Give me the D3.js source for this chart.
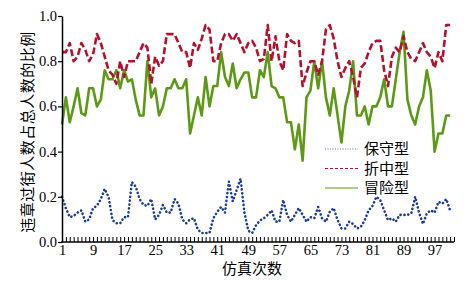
<!DOCTYPE html>
<html>
<head>
<meta charset="utf-8">
<script src="https://cdn.jsdelivr.net/npm/d3@7/dist/d3.min.js"></script>
<style>
    body { margin: 0; background: #fff; }
    svg { display: block; }
</style>
</head>
<body>
<div id="chart"></div>
<script>
// 仿真次数 1..101
var conservative = [
    0.20, 0.15, 0.11, 0.115, 0.13, 0.14, 0.09, 0.10, 0.15, 0.16,
    0.19, 0.235, 0.20, 0.097, 0.083, 0.083, 0.11, 0.11, 0.265, 0.245,
    0.19, 0.164, 0.16, 0.19, 0.10, 0.12, 0.164, 0.13, 0.13, 0.19,
    0.17, 0.10, 0.083, 0.10, 0.105, 0.055, 0.04, 0.04, 0.04, 0.105,
    0.134, 0.155, 0.13, 0.267, 0.18, 0.23, 0.28, 0.13, 0.05, 0.04,
    0.075, 0.095, 0.105, 0.12, 0.14, 0.09, 0.09, 0.186, 0.12, 0.09,
    0.12, 0.15, 0.12, 0.09, 0.11, 0.105, 0.155, 0.105, 0.09, 0.134,
    0.15, 0.097, 0.06, 0.06, 0.09, 0.08, 0.06, 0.067, 0.097, 0.14,
    0.16, 0.20, 0.186, 0.14, 0.097, 0.105, 0.09, 0.12, 0.12, 0.12,
    0.127, 0.20, 0.13, 0.08, 0.127, 0.14, 0.13, 0.178, 0.17, 0.19,
    0.14
];
var moderate = [
    0.84, 0.84, 0.88, 0.80, 0.82, 0.88, 0.85, 0.80, 0.83, 0.92,
    0.88, 0.82, 0.76, 0.74, 0.70, 0.80, 0.73, 0.80, 0.80, 0.80,
    0.84, 0.88, 0.86, 0.70, 0.82, 0.78, 0.80, 0.92, 0.92, 0.92,
    0.88, 0.84, 0.84, 0.77, 0.88, 0.85, 0.90, 0.96, 0.94, 0.80,
    0.80, 0.88, 0.92, 0.92, 0.89, 0.92, 0.88, 0.84, 0.88, 0.89,
    0.86, 0.80, 0.81, 0.96, 0.80, 0.91, 0.80, 0.76, 0.92, 0.89,
    0.88, 0.89, 0.69, 0.75, 0.80, 0.80, 0.74, 0.80, 0.94, 0.96,
    0.90, 0.80, 0.73, 0.77, 0.80, 0.73, 0.64, 0.77, 0.79, 0.84,
    0.88, 0.89, 0.89, 0.76, 0.69, 0.82, 0.86, 0.84, 0.91, 0.84,
    0.81, 0.80, 0.84, 0.88, 0.84, 0.82, 0.77, 0.84, 0.80, 0.96,
    0.96
];
var risky = [
    0.52, 0.64, 0.53, 0.60, 0.68, 0.57, 0.56, 0.68, 0.68, 0.60,
    0.63, 0.76, 0.72, 0.72, 0.76, 0.68, 0.76, 0.71, 0.72, 0.63,
    0.56, 0.56, 0.80, 0.64, 0.68, 0.56, 0.60, 0.68, 0.68, 0.72,
    0.68, 0.68, 0.72, 0.48, 0.56, 0.64, 0.56, 0.73, 0.60, 0.69,
    0.69, 0.84, 0.73, 0.69, 0.79, 0.68, 0.72, 0.75, 0.75, 0.64,
    0.64, 0.76, 0.73, 0.84, 0.69, 0.68, 0.64, 0.64, 0.53, 0.53,
    0.41, 0.52, 0.36, 0.64, 0.67, 0.80, 0.68, 0.80, 0.64, 0.56,
    0.68, 0.56, 0.44, 0.60, 0.67, 0.80, 0.56, 0.56, 0.60, 0.52,
    0.60, 0.60, 0.64, 0.72, 0.60, 0.60, 0.72, 0.84, 0.93, 0.63,
    0.56, 0.52, 0.60, 0.64, 0.76, 0.67, 0.40, 0.48, 0.48, 0.56,
    0.56
];
var seriesNames = ["保守型", "折中型", "冒险型"];
var xTickLabels = [1, 9, 17, 25, 33, 41, 49, 57, 65, 73, 81, 89, 97];
var yTickLabels = [0, 0.2, 0.4, 0.6, 0.8, 1.0];

var w = 476,
    h = 282,
    plotLeft = 62,
    plotRight = 454,
    plotTop = 16,
    plotBottom = 242,
    numFont = "'Liberation Serif', 'Noto Sans CJK SC', serif",
    cjkFont = "'Noto Sans CJK SC', sans-serif";

var svg = d3.select("#chart")
    .append("svg")
    .attr("width", w)
    .attr("height", h);

var x = d3.scaleLinear().domain([1, 102]).range([plotLeft, plotRight]);
var y = d3.scaleLinear().domain([0, 1]).range([plotBottom, plotTop]);

var styles = [
    { color: "#1b3a9e", dash: "0.1,3.8", cap: "round", width: 2.6, legendColor: "#6a6ad8", legendDash: "1,1.5" },
    { color: "#b3122e", dash: "7,3", cap: "butt", width: 2.6, legendColor: "#b3122e", legendDash: "3,2" },
    { color: "#5c9a16", dash: null, cap: "butt", width: 2.6, legendColor: "#5c9a16", legendDash: null }
];
var allSeries = [conservative, moderate, risky];

var line = d3.line()
    .x(function (d, i) { return x(i + 1); })
    .y(function (d) { return y(d); });

// green first, then red, then the blue dots on top
[2, 1, 0].forEach(function (k) {
    svg.append("path")
        .datum(allSeries[k])
        .attr("fill", "none")
        .attr("stroke", styles[k].color)
        .attr("stroke-width", styles[k].width)
        .attr("stroke-linecap", styles[k].cap)
        .attr("stroke-linejoin", "round")
        .attr("stroke-dasharray", styles[k].dash)
        .attr("d", line);
});

// x axis: a tick at every run, labels every 8
var xAxis = d3.axisBottom(x)
    .tickValues(d3.range(1, 103))
    .tickSizeInner(-5)
    .tickSizeOuter(0)
    .tickFormat(function (d) { return xTickLabels.indexOf(d) >= 0 ? d : ""; });

var gx = svg.append("g")
    .attr("transform", "translate(0," + plotBottom + ")")
    .call(xAxis);
gx.select(".domain").attr("stroke", "#000").attr("stroke-width", 1.5)
    .attr("d", "M" + (plotLeft - 0.75) + ",0H" + plotRight);
gx.selectAll(".tick line").attr("stroke", "#000").attr("stroke-width", 1);
gx.selectAll(".tick text")
    .attr("y", 2.5)
    .attr("font-family", numFont)
    .attr("font-size", 14.5)
    .attr("fill", "#000");

// y axis: line and short outward ticks, labels as separate texts
var yAxis = d3.axisLeft(y)
    .tickValues(yTickLabels)
    .tickSizeInner(4)
    .tickSizeOuter(0)
    .tickFormat("");

var gy = svg.append("g")
    .attr("transform", "translate(" + plotLeft + ",0)")
    .call(yAxis);
gy.select(".domain").attr("stroke", "#000").attr("stroke-width", 1.5);
gy.selectAll(".tick line").attr("stroke", "#000").attr("stroke-width", 1.2);

svg.selectAll("text.ylabel")
    .data(yTickLabels)
    .enter()
    .append("text")
    .attr("class", "ylabel")
    .text(function (d) { return d3.format(".1f")(d); })
    .attr("x", plotLeft - 5)
    .attr("y", function (d) { return y(d); })
    .attr("dy", "0.34em")
    .attr("text-anchor", "end")
    .attr("font-family", numFont)
    .attr("font-size", 14.5)
    .attr("fill", "#000");

svg.append("text")
    .text("仿真次数")
    .attr("x", 252)
    .attr("y", 274)
    .attr("text-anchor", "middle")
    .attr("font-family", cjkFont)
    .attr("font-size", 15)
    .attr("fill", "#000");

svg.append("text")
    .text("违章过街人数占总人数的比例")
    .attr("transform", "translate(33,132) rotate(-90)")
    .attr("text-anchor", "middle")
    .attr("font-family", cjkFont)
    .attr("font-size", 15)
    .attr("letter-spacing", 0.5)
    .attr("fill", "#000");

// legend
var legend = svg.append("g").attr("transform", "translate(325,149)");
seriesNames.forEach(function (name, i) {
    var row = legend.append("g").attr("transform", "translate(0," + (i * 19.5) + ")");
    row.append("line")
        .attr("x1", 0).attr("x2", 33)
        .attr("y1", 0).attr("y2", 0)
        .attr("stroke", styles[i].legendColor)
        .attr("stroke-width", 1.2)
        .attr("stroke-dasharray", styles[i].legendDash);
    row.append("text")
        .text(name)
        .attr("x", 39)
        .attr("y", 5)
        .attr("font-family", cjkFont)
        .attr("font-size", 15)
        .attr("fill", "#000");
});
</script>
</body>
</html>
